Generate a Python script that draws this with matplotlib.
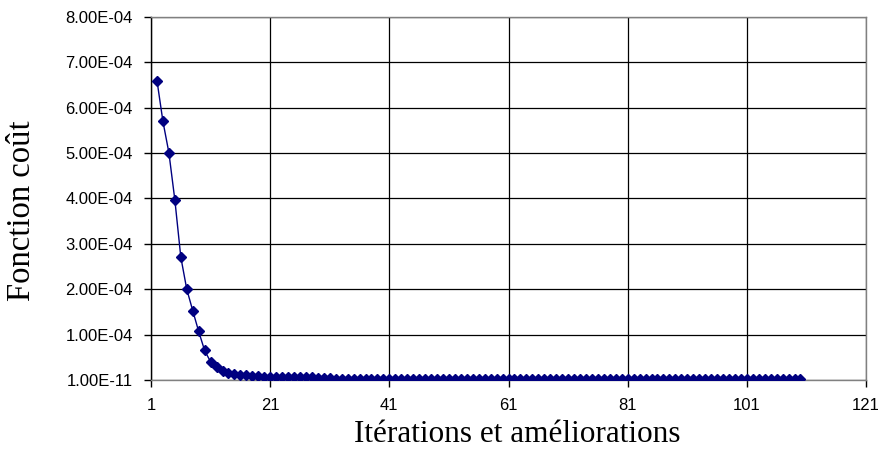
import matplotlib
matplotlib.use("Agg")
import matplotlib.pyplot as plt
import numpy as np

# cost function per iteration (in units of 1e-4)
iterations = np.arange(2, 111)
head = [6.60, 5.70, 5.01, 3.97, 2.71, 2.00, 1.53, 1.07, 0.65, 0.40,
        0.287, 0.206, 0.155, 0.132, 0.118, 0.103, 0.096, 0.081, 0.074, 0.066,
        0.060, 0.058, 0.057, 0.056, 0.056, 0.055, 0.055, 0.054, 0.054, 0.053]
tail = [0.025] * (len(iterations) - len(head))
cost = np.array(head + tail) * 1e-4

x_ticks = [1, 21, 41, 61, 81, 101, 121]
y_ticks = [0, 1e-4, 2e-4, 3e-4, 4e-4, 5e-4, 6e-4, 7e-4, 8e-4]
y_labels = ["1.00E-11", "1.00E-04", "2.00E-04", "3.00E-04", "4.00E-04",
            "5.00E-04", "6.00E-04", "7.00E-04", "8.00E-04"]

NAVY = "#000080"
AXIS_GRAY = "#808080"

fig = plt.figure(figsize=(8.8, 4.5), dpi=100)
ax = fig.add_axes([0.1716, 0.1556, 0.8125, 0.8066])

ax.plot(iterations, cost, color=NAVY, lw=1.0, marker="D", ms=4.6,
        markeredgecolor=NAVY, markerfacecolor=NAVY, zorder=3)

ax.set_xlim(1, 121)
ax.set_ylim(0, 8e-4)
ax.set_xticks(x_ticks)
ax.set_yticks(y_ticks)
ax.set_yticklabels(y_labels)
ax.grid(True, color="black", lw=0.9)
ax.set_axisbelow(True)

for side in ["top", "right", "bottom"]:
    ax.spines[side].set_color(AXIS_GRAY)
ax.spines["left"].set_color("black")
for s in ax.spines.values():
    s.set_linewidth(1.0)

ax.tick_params(axis="both", direction="out", length=5, width=1,
               colors="black", labelsize=12, labelfontfamily="Liberation Sans")
ax.tick_params(axis="x", pad=8)
ax.tick_params(axis="y", pad=8)

ax.set_xlabel("Itérations et améliorations", family="Liberation Serif",
              fontsize=22.5, va="center")
ax.set_ylabel("Fonction coût", family="Liberation Serif",
              fontsize=23.5, va="center")
# place label centres in figure pixels (x label ~ (517, 435), y label ~ (22, 211))
ax.xaxis.set_label_coords(517 / 880, 1 - 435 / 450, transform=fig.transFigure)
ax.yaxis.set_label_coords(22 / 880, 1 - 211 / 450, transform=fig.transFigure)

fig.savefig("out.png", dpi=100)
